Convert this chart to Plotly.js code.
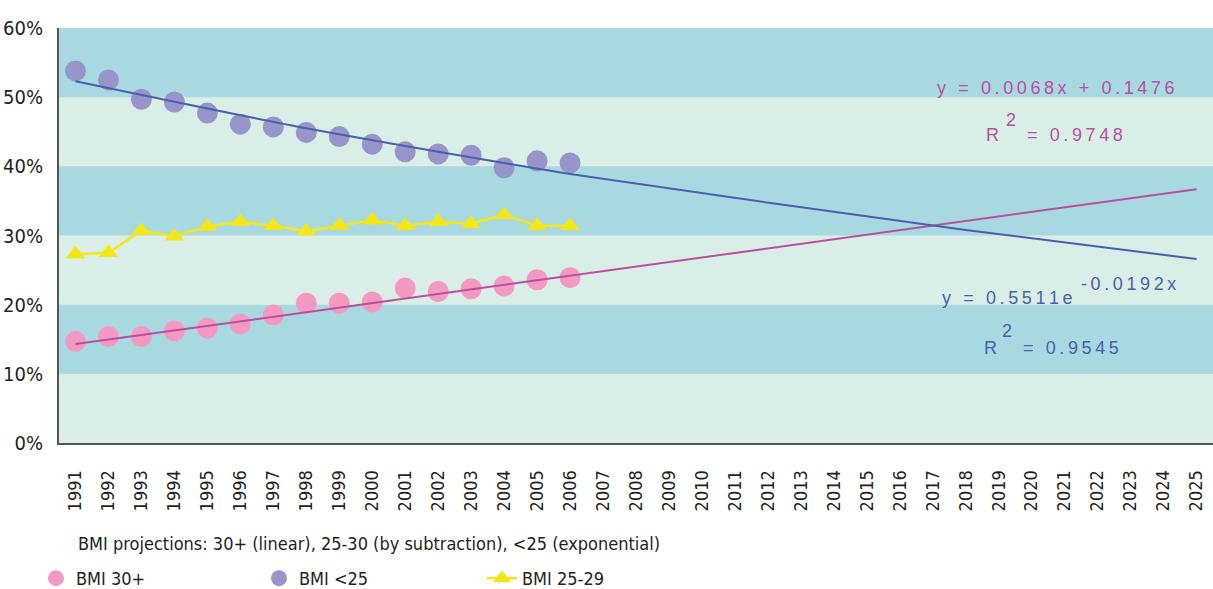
<!DOCTYPE html>
<html>
<head>
<meta charset="utf-8">
<script src="https://cdn.plot.ly/plotly-3.0.1.min.js"></script>
<style>html,body{margin:0;padding:0;background:#fff;}#chart{width:1213px;height:589px;}</style>
</head>
<body>
<div id="chart"></div>
<script>
// ---- data ----
const years = ['1991','1992','1993','1994','1995','1996','1997','1998','1999','2000','2001','2002','2003','2004','2005','2006','2007','2008','2009','2010','2011','2012','2013','2014','2015','2016','2017','2018','2019','2020','2021','2022','2023','2024','2025'];
const obsYears = years.slice(0, 16);
const bmi30plus = [0.147, 0.154, 0.154, 0.162, 0.166, 0.172, 0.185, 0.202, 0.202, 0.204, 0.224, 0.219, 0.223, 0.227, 0.236, 0.239];
const bmiUnder25 = [0.538, 0.525, 0.497, 0.493, 0.477, 0.461, 0.457, 0.449, 0.443, 0.432, 0.421, 0.418, 0.416, 0.398, 0.408, 0.405];
const bmi25to29 = [0.273, 0.275, 0.307, 0.299, 0.313, 0.320, 0.314, 0.306, 0.314, 0.322, 0.314, 0.320, 0.317, 0.330, 0.314, 0.314];
const linTrendYears = ['1991', '2025'];
const linTrend = [0.143, 0.367];
const expTrendYears = ['1991', '1998', '2006', '2018', '2025'];
const expTrend = [0.523, 0.455, 0.389, 0.308, 0.266];
const yTicks = [0, 0.1, 0.2, 0.3, 0.4, 0.5, 0.6];
const yTickText = ['0%', '10%', '20%', '30%', '40%', '50%', '60%'];
const noteText = 'BMI projections: 30+ (linear), 25-30 (by subtraction), <25 (exponential)';
const seriesNames = ['BMI 30+', 'BMI <25', 'BMI 25-29'];
const linEq = 'y = 0.0068x + 0.1476', linR2 = '= 0.9748';
const expEqBase = 'y = 0.5511e', expEqExp = '-0.0192x', expR2 = '= 0.9545';

// ---- styling ----
const FONT = '"Liberation Sans Narrow", "DejaVu Sans Condensed", "Arial Narrow", sans-serif';
const EQFONT = '"Liberation Sans", Arial, sans-serif';
const DARK = '#a9d9e0', LIGHT = '#d9eee7';
const PINK = '#f49ac2', PURPLE = '#9795c9', YELLOW = '#f5e617';
const MAGENTA = '#bb4f9f', BLUE = '#4a5fb0';
const T = '\u2009';
const spread = s => s.split('').join(T);

const L = 59, TOP = 28, W = 1154, H = 415;
const px = x => (x - L) / W;
const py = y => (TOP + H - y) / H;

const traces = [
  {x: obsYears, y: bmi30plus, name: seriesNames[0], type: 'scatter', mode: 'markers',
   marker: {color: PINK, size: 21, symbol: 'circle'}},
  {x: obsYears, y: bmiUnder25, name: seriesNames[1], type: 'scatter', mode: 'markers',
   marker: {color: PURPLE, size: 21, symbol: 'circle'}},
  {x: obsYears, y: bmi25to29, name: seriesNames[2], type: 'scatter', mode: 'lines+markers',
   line: {color: YELLOW, width: 2.5}, marker: {color: YELLOW, size: 17, symbol: 'triangle-up'}},
  {x: linTrendYears, y: linTrend, type: 'scatter', mode: 'lines', showlegend: false,
   line: {color: MAGENTA, width: 2}},
  {x: expTrendYears, y: expTrend, type: 'scatter', mode: 'lines', showlegend: false,
   line: {color: BLUE, width: 2, shape: 'spline', smoothing: 0.6}}
];

const shapes = [];
for (let i = 0; i < 6; i++) {
  if (i % 2 === 1) {
    shapes.push({type: 'rect', xref: 'paper', yref: 'y', x0: 0, x1: 1, y0: yTicks[i], y1: yTicks[i + 1],
      fillcolor: DARK, line: {width: 0}, layer: 'below'});
  }
}

const eqMag = {family: EQFONT, size: 18, color: MAGENTA};
const eqBlue = {family: EQFONT, size: 18, color: BLUE};
function ann(x, y, text, font) {
  return {xref: 'paper', yref: 'paper', x: px(x), y: py(y), xanchor: 'left', yanchor: 'middle',
    showarrow: false, text: text, font: font};
}
const annotations = [
  ann(935, 88, spread(linEq), eqMag),
  ann(984, 135, 'R', eqMag),
  ann(1004, 120, '2', eqMag),
  ann(1025, 135, spread(linR2), eqMag),
  ann(940, 298, spread(expEqBase), eqBlue),
  ann(1079, 284, spread(expEqExp), eqBlue),
  ann(982, 348, 'R', eqBlue),
  ann(1000, 331, '2', eqBlue),
  ann(1021, 348, spread(expR2), eqBlue),
  ann(76, 543, noteText, {family: FONT, size: 18, color: '#231f20'})
];

const layout = {
  width: 1213, height: 589,
  margin: {l: L, r: 1213 - L - W, t: TOP, b: 589 - TOP - H, pad: 0},
  paper_bgcolor: '#ffffff', plot_bgcolor: LIGHT,
  showlegend: true,
  legend: {orientation: 'h', xref: 'container', yref: 'container', x: 36 / 1213, y: (589 - 560) / 589,
    xanchor: 'left', yanchor: 'top', entrywidth: 178, entrywidthmode: 'pixels',
    font: {family: FONT, size: 18, color: '#231f20'}, bgcolor: 'rgba(0,0,0,0)', borderwidth: 0},
  xaxis: {type: 'category', categoryorder: 'array', categoryarray: years, range: [-0.5, 34.5],
    tickmode: 'array', tickvals: years, ticktext: years, tickangle: -90,
    showgrid: false, zeroline: false, showline: true, linecolor: '#555', linewidth: 2,
    ticks: '', ticklabelstandoff: 18, tickfont: {family: FONT, size: 18, color: '#231f20'}, fixedrange: true},
  yaxis: {range: [0, 0.6], tickmode: 'array', tickvals: yTicks, ticktext: yTickText,
    showgrid: false, zeroline: false, showline: true, linecolor: '#555', linewidth: 2,
    ticks: '', ticklabelstandoff: 10, tickfont: {family: FONT, size: 20, color: '#231f20'}, fixedrange: true},
  shapes: shapes,
  annotations: annotations
};

Plotly.newPlot('chart', traces, layout, {displayModeBar: false, staticPlot: true});
</script>
</body>
</html>
